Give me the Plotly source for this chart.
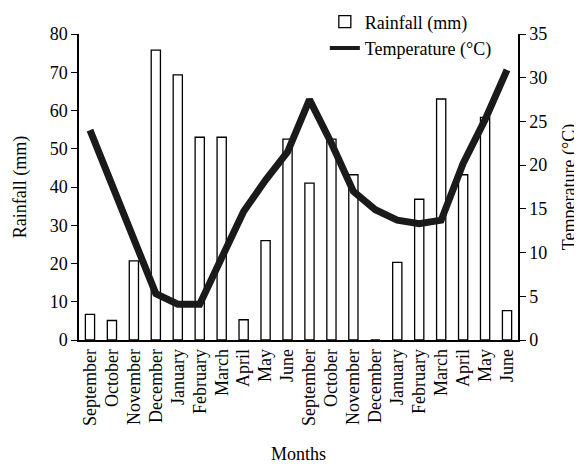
import plotly.graph_objects as go

months = ["September", "October", "November", "December", "January", "February",
          "March", "April", "May", "June",
          "September", "October", "November", "December", "January", "February",
          "March", "April", "May", "June"]
rainfall = [6.7, 5.1, 20.7, 75.8, 69.3, 53, 53, 5.3, 26, 52.5,
            41, 52.5, 43.2, 0, 20.3, 36.8, 63, 43.2, 58.2, 7.7]
temperature = [24.0, 17.8, 11.5, 5.3, 4.1, 4.1, 9.4, 14.7, 18.3, 21.5,
               27.5, 22.5, 17.0, 14.9, 13.7, 13.3, 13.7, 20.2, 25.2, 30.9]
x = list(range(len(months)))

font = "Liberation Serif"
fs = 18

fig = go.Figure()
fig.add_trace(go.Bar(x=x, y=rainfall, name="Rainfall (mm)", width=0.42,
                     marker=dict(color="white", line=dict(color="black", width=1.3))))
fig.add_trace(go.Scatter(x=x, y=temperature, name="Temperature (°C)", yaxis="y2",
                         mode="lines", line=dict(color="#1a1a1a", width=7),
                         legendgroup="temp", showlegend=False))
# legend entry with a thinner line, as in the reference key
fig.add_trace(go.Scatter(x=[None], y=[None], name="Temperature (°C)", yaxis="y2",
                         mode="lines", line=dict(color="#1a1a1a", width=4),
                         legendgroup="temp", showlegend=True, hoverinfo="skip"))

# page has an 8px body margin, so the figure is sized/offset to compensate
fig.update_layout(
    template="none",
    width=574, height=456,
    margin=dict(l=71, r=64, t=26, b=124, autoexpand=False),
    paper_bgcolor="white", plot_bgcolor="white",
    font=dict(family=font, size=fs, color="black"),
    showlegend=True,
    legend=dict(x=0.56, y=1.10, xanchor="left", yanchor="top",
                bgcolor="rgba(0,0,0,0)", font=dict(family=font, size=fs),
                tracegroupgap=0, itemwidth=30),
    xaxis=dict(tickmode="array", tickvals=x, ticktext=months, tickangle=-90,
               range=[-0.5, 19.5], showline=True, linecolor="black", linewidth=1.5,
               ticks="", showgrid=False, zeroline=False, automargin=False,
               layer="above traces", tickfont=dict(family=font, size=fs),
               title=dict(text="Months", standoff=27, font=dict(family=font, size=fs))),
    yaxis=dict(range=[0, 80], dtick=10, showline=True, linecolor="black", linewidth=1.5,
               ticks="outside", ticklen=6, tickcolor="black", showgrid=False, zeroline=False,
               automargin=False, tickfont=dict(family=font, size=fs),
               title=dict(text="Rainfall (mm)", standoff=18, font=dict(family=font, size=fs))),
    yaxis2=dict(range=[0, 35], dtick=5, overlaying="y", side="right", showline=True,
                linecolor="black", linewidth=1.5, ticks="outside", ticklen=6,
                tickcolor="black", showgrid=False, zeroline=False, automargin=False,
                tickfont=dict(family=font, size=fs),
                title=dict(text="Temperature (°C)", standoff=16, font=dict(family=font, size=fs))),
)

fig.write_html("out.html")
